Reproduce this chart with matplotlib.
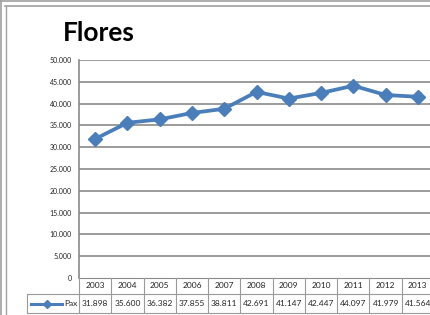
import matplotlib
matplotlib.use("Agg")
import matplotlib.pyplot as plt
from matplotlib.lines import Line2D

years = ["2003", "2004", "2005", "2006", "2007", "2008", "2009", "2010", "2011", "2012", "2013"]
pax = [31898, 35600, 36382, 37855, 38811, 42691, 41147, 42447, 44097, 41979, 41564]
pax_labels = ["31.898", "35.600", "36.382", "37.855", "38.811", "42.691",
              "41.147", "42.447", "44.097", "41.979", "41.564"]
yticks = list(range(0, 50001, 5000))
ytick_labels = ["0", "5.000", "10.000", "15.000", "20.000", "25.000",
                "30.000", "35.000", "40.000", "45.000", "50.000"]

plt.rcParams['font.family'] = ['Lato', 'DejaVu Sans']
W, H = 430, 315
fig = plt.figure(figsize=(W / 100, H / 100), dpi=100)

blue = '#4a7ebb'
grid = '#8a8a8a'

# plot area in pixel coords
L, R, T, B = 79, 434, 60, 278
ax = fig.add_axes([L / W, 1 - B / H, (R - L) / W, (B - T) / H])
x = list(range(len(years)))
ax.plot(x, pax, color=blue, lw=2.7, marker='D', ms=7.5, mfc=blue, mec=blue, zorder=3)
ax.set_xlim(-0.5, len(years) - 0.5)
ax.set_ylim(0, 50000)
ax.set_yticks(yticks)
ax.set_yticklabels(ytick_labels, fontsize=5, color='#222222')
ax.tick_params(axis='y', length=0, pad=5)
ax.set_xticks([])
for y in yticks[1:]:
    ax.axhline(y, color=grid, lw=1.2, zorder=1)
for s in ['top', 'right']:
    ax.spines[s].set_visible(False)
ax.spines['left'].set_color(grid)
ax.spines['bottom'].set_color(grid)
ax.spines['left'].set_linewidth(1.2)

# data table drawn under the axes
r1, r2, r3 = 278, 294, 313
def fx(px):
    return px / W
def fy(py):
    return 1 - py / H
cw = (R - L) / len(years)
lc = '#9a9a9a'
fig.add_artist(Line2D([fx(27), fx(R)], [fy(r2), fy(r2)], color=lc, lw=0.8))
fig.add_artist(Line2D([fx(27), fx(R)], [fy(r3), fy(r3)], color=lc, lw=0.8))
fig.add_artist(Line2D([fx(27), fx(27)], [fy(r2), fy(r3)], color=lc, lw=0.8))
for i in range(len(years) + 1):
    xp = L + i * cw
    fig.add_artist(Line2D([fx(xp), fx(xp)], [fy(r1), fy(r3)], color=lc, lw=0.8))
for i, (yr, lab) in enumerate(zip(years, pax_labels)):
    xc = L + (i + 0.5) * cw
    fig.text(fx(xc), fy((r1 + r2) / 2), yr, fontsize=6, ha='center', va='center', color='#222222')
    fig.text(fx(xc), fy((r2 + r3) / 2), lab, fontsize=6, ha='center', va='center', color='#222222')

# legend key in table
ym = fy((r2 + r3) / 2)
fig.add_artist(Line2D([fx(31), fx(62)], [ym, ym], color=blue, lw=2.2))
fig.add_artist(Line2D([fx(47)], [ym], color=blue, marker='D', ms=3.8, lw=0))
fig.text(fx(64), ym, "Pax", fontsize=6, ha='left', va='center', color='#222222')

# title
fig.text(fx(63), fy(33), "Flores", fontsize=19, fontweight='bold', ha='left', va='center', color='black')

# outer frame lines
fc = '#a0a0a0'
fig.add_artist(Line2D([0, 1], [fy(1), fy(1)], color=fc, lw=1.2))
fig.add_artist(Line2D([fx(5), 1], [fy(6), fy(6)], color=fc, lw=1.2))
fig.add_artist(Line2D([fx(1), fx(1)], [0, fy(1)], color=fc, lw=1.2))
fig.add_artist(Line2D([fx(5.5), fx(5.5)], [0, fy(6)], color=fc, lw=1.0))

fig.savefig('out.png', dpi=100)
